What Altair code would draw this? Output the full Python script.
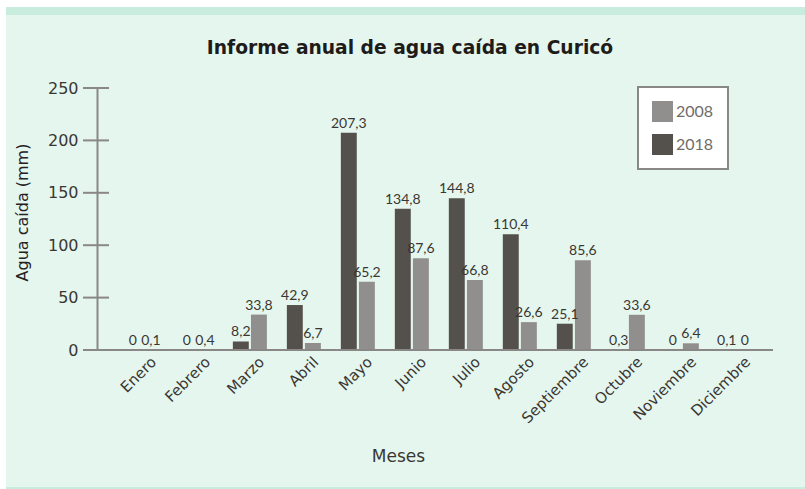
import altair as alt
import pandas as pd

months = ["Enero", "Febrero", "Marzo", "Abril", "Mayo", "Junio", "Julio",
          "Agosto", "Septiembre", "Octubre", "Noviembre", "Diciembre"]
v2018 = [0, 0, 8.2, 42.9, 207.3, 134.8, 144.8, 110.4, 25.1, 0.3, 0, 0.1]
v2008 = [0.1, 0.4, 33.8, 6.7, 65.2, 87.6, 66.8, 26.6, 85.6, 33.6, 6.4, 0]
years = ["2008", "2018"]
y_ticks = [0, 50, 100, 150, 200, 250]

rows = []
for m, a, b in zip(months, v2018, v2008):
    rows.append({"mes": m, "anio": "2018", "valor": a, "txt": f"{a:g}".replace(".", ",")})
    rows.append({"mes": m, "anio": "2008", "valor": b, "txt": f"{b:g}".replace(".", ",")})
df = pd.DataFrame(rows)
ticks_df = pd.DataFrame({"t": y_ticks})
one = pd.DataFrame({"k": [0]})

FONT = "Lato"
WIDE = "DejaVu Sans"
TXT = "#3a3632"
AX = "#8a8886"
DARK = "#54504b"
GRAY = "#918f8d"
MINT = "#e5f6ee"
MINT_D = "#c8ecdd"

x_enc = alt.X("mes:N", sort=months, title="Meses",
              scale=alt.Scale(paddingInner=0.37, paddingOuter=0.445, align=0.58),
              axis=alt.Axis(labelAngle=-45, domain=False, ticks=False, labelFont=WIDE,
                            labelFontSize=15, labelColor=TXT, labelPadding=4,
                            labelOffset=7, zindex=1,
                            titleFont=WIDE, titleFontSize=17, titleFontWeight="normal",
                            titleColor=TXT, titleX=301, titleY=106,
                            titleBaseline="middle", titleAlign="center"))
y_scale = alt.Scale(domain=[0, 250], nice=False)
xo = alt.XOffset("anio:N", sort=["2018", "2008"], scale=alt.Scale(paddingInner=0.12))

frame = alt.Chart(one).mark_rect(color=MINT).encode(
    x=alt.value(-91), x2=alt.value(708), y=alt.value(-81), y2=alt.value(401))
top_band = alt.Chart(one).mark_rect(color=MINT_D).encode(
    x=alt.value(-91), x2=alt.value(708), y=alt.value(-81), y2=alt.value(-73))
bottom_band = alt.Chart(one).mark_rect(color=MINT_D).encode(
    x=alt.value(-91), x2=alt.value(708), y=alt.value(399), y2=alt.value(401))

bars = alt.Chart(df).mark_bar().encode(
    x=x_enc,
    xOffset=xo,
    y=alt.Y("valor:Q", scale=y_scale, title="Agua caída (mm)",
            axis=alt.Axis(values=y_ticks, grid=False, ticks=False, domainColor=AX,
                          domainWidth=2, labelFont=WIDE, labelFontSize=16,
                          labelColor=TXT, labelPadding=19, titleFont=WIDE, zindex=1,
                          titleFontSize=16, titleFontWeight="normal", titleColor="#24211e",
                          titleX=-75, titleY=124, titleAngle=-90,
                          titleBaseline="middle", titleAlign="center")),
    color=alt.Color("anio:N", scale=alt.Scale(domain=years, range=[GRAY, DARK]),
                    legend=alt.Legend(title=None, orient="none", legendX=541, legendY=-1,
                                      fillColor="white", strokeColor=AX, zindex=2,
                                      padding=14, symbolType="square", symbolSize=441,
                                      symbolStrokeWidth=0, labelFont=FONT,
                                      labelFontSize=16, labelColor="#6f6c69",
                                      rowPadding=12, labelOffset=3,
                                      labelExpr="datum.label + '                 '")),
)

labels = alt.Chart(df).mark_text(baseline="bottom", dy=-2, font=FONT, fontSize=14,
                                 color=TXT).encode(
    x=alt.X("mes:N", sort=months),
    xOffset=xo,
    y=alt.Y("valor:Q", scale=y_scale),
    text="txt:N",
)

xaxis_line = alt.Chart(one).mark_rule(color=AX, strokeWidth=2).encode(
    y=alt.datum(0), x=alt.value(-14), x2=alt.value(676))

ytick_marks = alt.Chart(ticks_df).mark_rule(color=AX, strokeWidth=2).encode(
    y=alt.Y("t:Q", scale=y_scale), x=alt.value(-14), x2=alt.value(12))

chart = alt.layer(frame, top_band, bottom_band, bars, xaxis_line, ytick_marks,
                  labels).properties(
    width=676, height=262,
    autosize=alt.AutoSizeParams(type="none"),
    padding={"left": 97, "top": 88, "right": 32, "bottom": 139},
    background="white",
    title=alt.Title("Informe anual de agua caída en Curicó", font=WIDE, fontSize=18.7,
                    fontWeight="bold", color="#1e1c1a", anchor="middle", dx=-25,
                    offset=30, dy=81, zindex=2),
).configure_view(stroke=None).configure_legend(strokeWidth=2)

chart.save("out.html", embed_options={"renderer": "svg", "actions": False})
